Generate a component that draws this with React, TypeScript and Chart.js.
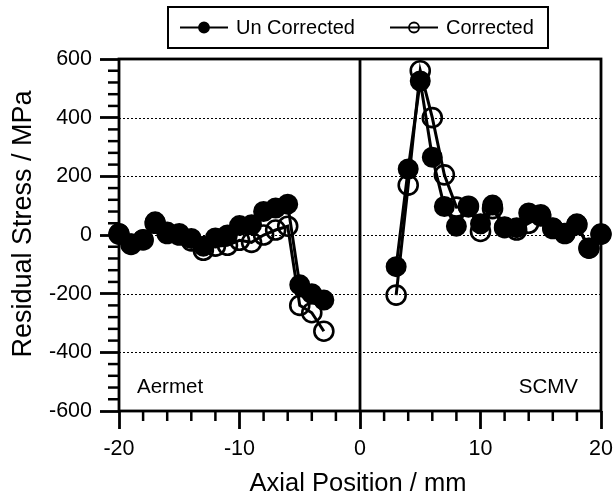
import React, { useEffect, useRef } from "react";
import { Chart, registerables } from "chart.js";

Chart.register(...registerables);

// ---- data ----
const aermetX = [-20, -19, -18, -17, -16, -15, -14, -13, -12, -11, -10, -9, -8, -7, -6, -5, -4, -3];
const aermetUncorrected = [5, -30, -15, 45, 10, 5, -12, -38, -10, 0, 32, 35, 80, 92, 105, -170, -200, -222];
const aermetCorrected = [3, -32, -17, 40, 5, 0, -20, -52, -38, -35, -18, -25, 0, 17, 30, -240, -265, -328];

const scmvX = [3, 4, 5, 6, 7, 8, 9, 10, 11, 12, 13, 14, 15, 16, 17, 18, 19, 20];
const scmvUncorrected = [-108, 225, 525, 265, 97, 30, 95, 38, 102, 28, 25, 75, 70, 25, 5, 38, -45, 3];
const scmvCorrected = [-205, 170, 560, 400, 205, 95, 98, 12, 90, 25, 17, 40, 65, 22, 5, 35, -45, 3];

const seriesLabels = ["Un Corrected", "Corrected"];
const regionLabels = ["Aermet", "SCMV"];
const xTitle = "Axial Position / mm";
const yTitle = "Residual Stress / MPa";
const xRange = [-20, 20];
const yRange = [-600, 600];
const xMajorStep = 10;
const xMinorStep = 2;
const yMajorStep = 200;
const yMinorStep = 40;
const gridValues = [-400, -200, 0, 200, 400];

const FONT = '"Liberation Sans", Arial, sans-serif';

const pts = (xs: number[], ys: number[]) => xs.map((x, i) => ({ x, y: ys[i] }));

const decor = {
  id: "decor",
  beforeDatasetsDraw(chart: any) {
    const { ctx, chartArea: a, scales } = chart;
    const x = scales.x;
    const y = scales.y;
    ctx.save();
    ctx.strokeStyle = "#000";
    ctx.lineWidth = 1;
    ctx.setLineDash([2, 2]);
    for (const v of gridValues) {
      const py = Math.round(y.getPixelForValue(v)) + 0.5;
      ctx.beginPath();
      ctx.moveTo(a.left, py);
      ctx.lineTo(a.right, py);
      ctx.stroke();
    }
    ctx.setLineDash([]);
    ctx.lineWidth = 2.8;
    const x0 = x.getPixelForValue(0);
    ctx.beginPath();
    ctx.moveTo(x0, a.top);
    ctx.lineTo(x0, a.bottom);
    ctx.stroke();
    ctx.restore();
  },
  afterDraw(chart: any) {
    const { ctx, chartArea: a, scales } = chart;
    const x = scales.x;
    const y = scales.y;
    ctx.save();
    ctx.strokeStyle = "#000";
    ctx.fillStyle = "#000";
    // frame
    ctx.lineWidth = 2.8;
    ctx.strokeRect(a.left, a.top, a.right - a.left, a.bottom - a.top);
    // minor ticks
    ctx.lineWidth = 2.5;
    for (let v = xRange[0]; v <= xRange[1]; v += xMinorStep) {
      if (v % xMajorStep === 0) continue;
      const px = x.getPixelForValue(v);
      ctx.beginPath();
      ctx.moveTo(px, a.bottom);
      ctx.lineTo(px, a.bottom + 10);
      ctx.stroke();
    }
    for (let v = yRange[0]; v <= yRange[1]; v += yMinorStep) {
      if (v % yMajorStep === 0) continue;
      const py = y.getPixelForValue(v);
      ctx.beginPath();
      ctx.moveTo(a.left - 11, py);
      ctx.lineTo(a.left, py);
      ctx.stroke();
    }
    // region labels
    ctx.font = `20.5px ${FONT}`;
    ctx.textBaseline = "alphabetic";
    ctx.textAlign = "left";
    ctx.fillText(regionLabels[0], a.left + 18, a.bottom - 18);
    ctx.textAlign = "right";
    ctx.fillText(regionLabels[1], a.right - 23, a.bottom - 18);
    // axis titles
    ctx.font = `25.5px ${FONT}`;
    ctx.textAlign = "center";
    ctx.textBaseline = "alphabetic";
    ctx.fillText(xTitle, (a.left + a.right) / 2 - 2, 491);
    ctx.save();
    ctx.translate(31, 224);
    ctx.rotate(-Math.PI / 2);
    ctx.font = `27px ${FONT}`;
    ctx.fillText(yTitle, 0, 0);
    ctx.restore();
    // legend
    const cx = (a.left + a.right) / 2;
    const bw = 380;
    const bx = cx - bw / 2 - 2;
    const by = 7;
    const bh = 41;
    ctx.lineWidth = 2;
    ctx.strokeRect(bx, by, bw, bh);
    const ly = by + bh / 2;
    ctx.font = `20px ${FONT}`;
    ctx.textAlign = "left";
    ctx.textBaseline = "middle";
    const items = [
      { x: bx + 12, filled: true, label: seriesLabels[0] },
      { x: bx + 222, filled: false, label: seriesLabels[1] },
    ];
    for (const it of items) {
      ctx.lineWidth = 2;
      ctx.beginPath();
      ctx.moveTo(it.x, ly);
      ctx.lineTo(it.x + 48, ly);
      ctx.stroke();
      ctx.beginPath();
      ctx.arc(it.x + 24, ly, 5, 0, Math.PI * 2);
      if (it.filled) ctx.fill();
      ctx.lineWidth = 1.8;
      ctx.stroke();
      ctx.fillText(it.label, it.x + 56, ly + 1);
    }
    ctx.restore();
  },
};

const zeroPad = (s: any) => {
  s.paddingLeft = 0;
  s.paddingRight = 0;
  s.paddingTop = 0;
  s.paddingBottom = 0;
};

export default function App() {
  const ref = useRef<HTMLCanvasElement | null>(null);
  useEffect(() => {
    if (!ref.current) return;
    const filled = {
      showLine: true,
      borderColor: "#000",
      borderWidth: 3,
      pointRadius: 9.5,
      pointBorderWidth: 2,
      pointBackgroundColor: "#000",
      pointBorderColor: "#000",
      clip: false as any,
    };
    const open = {
      showLine: true,
      borderColor: "#000",
      borderWidth: 3,
      pointRadius: 9.5,
      pointBorderWidth: 2.6,
      pointBackgroundColor: "rgba(0,0,0,0)",
      pointBorderColor: "#000",
      clip: false as any,
    };
    const chart = new Chart(ref.current, {
      type: "scatter",
      data: {
        datasets: [
          { label: seriesLabels[0], data: pts(aermetX, aermetUncorrected), ...filled },
          { label: seriesLabels[0], data: pts(scmvX, scmvUncorrected), ...filled },
          { label: seriesLabels[1], data: pts(aermetX, aermetCorrected), ...open },
          { label: seriesLabels[1], data: pts(scmvX, scmvCorrected), ...open },
        ],
      },
      options: {
        animation: false,
        responsive: false,
        layout: { padding: { top: 59, right: 14, left: 0, bottom: 0 } },
        plugins: { legend: { display: false }, tooltip: { enabled: false } },
        scales: {
          x: {
            type: "linear",
            min: xRange[0],
            max: xRange[1],
            afterFit: (s: any) => { s.height = 87; zeroPad(s); },
            ticks: { stepSize: xMajorStep, color: "#000", font: { size: 21.5, family: FONT }, padding: 7, maxRotation: 0 },
            grid: { display: true, drawOnChartArea: false, drawTicks: true, tickLength: 18, tickWidth: 2.8, tickColor: "#000" },
            border: { display: false },
          },
          y: {
            type: "linear",
            min: yRange[0],
            max: yRange[1],
            afterFit: (s: any) => { s.width = 119; zeroPad(s); },
            ticks: { stepSize: yMajorStep, color: "#000", font: { size: 21.5, family: FONT }, padding: 8 },
            grid: { display: true, drawOnChartArea: false, drawTicks: true, tickLength: 19, tickWidth: 2.8, tickColor: "#000" },
            border: { display: false },
          },
        },
      },
      plugins: [decor],
    });
    return () => chart.destroy();
  }, []);
  return (
    <div style={{ position: "absolute", left: 0, top: 0, width: 615, height: 498, background: "#fff" }}>
      <canvas ref={ref} width={615} height={498} />
    </div>
  );
}
